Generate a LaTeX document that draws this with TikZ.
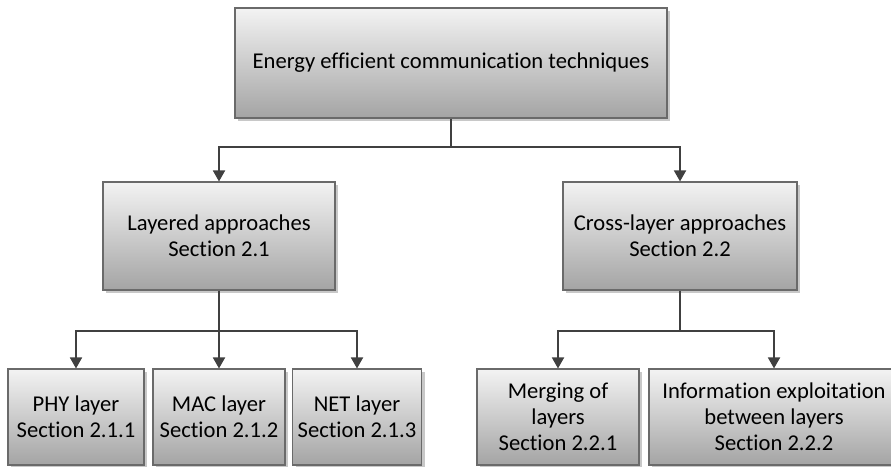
\documentclass[tikz,border=0pt]{standalone}
\usepackage{fontspec}
\setmainfont{Carlito}[Ligatures=NoCommon]
\usetikzlibrary{arrows.meta,shadows}

\definecolor{boxtop}{HTML}{F3F3F3}
\definecolor{boxbot}{HTML}{A4A4A4}
\definecolor{boxline}{HTML}{6A6A6A}
\definecolor{wire}{HTML}{404040}
\definecolor{shadowgray}{HTML}{C8C8C8}

\tikzset{
  box/.style={draw=boxline, line width=1.1pt, top color=boxtop, bottom color=boxbot,
    align=center, inner sep=0pt, font=\fontsize{22.6}{26}\selectfont,
    general shadow={fill=shadowgray, shadow xshift=3pt, shadow yshift=-3pt}},
  conn/.style={draw=wire, line width=1.8pt, -{Triangle[width=12pt,length=11pt]}},
  wireline/.style={draw=wire, line width=1.8pt}
}

\begin{document}
\begin{tikzpicture}[x=1pt,y=1pt]
\path[use as bounding box, clip] (0,0) rectangle (891,-466);

% top level
\node[box, minimum width=432pt, minimum height=110pt] (top) at (451,-63)
  {Energy efficient communication techniques};

% second level
\node[box, minimum width=232pt, minimum height=108pt] (lay) at (219,-236)
  {Layered approaches\\Section 2.1};
\node[box, minimum width=234pt, minimum height=108pt] (cross) at (680,-236)
  {Cross-layer approaches\\Section 2.2};

% third level
\node[box, minimum width=136pt, minimum height=96pt] (phy) at (76,-417)
  {PHY layer\\Section 2.1.1};
\node[box, minimum width=132pt, minimum height=96pt] (mac) at (219,-417)
  {MAC layer\\Section 2.1.2};
\node[box, minimum width=129pt, minimum height=96pt] (net) at (357,-417)
  {NET layer\\Section 2.1.3};
\node[box, minimum width=162pt, minimum height=96pt] (merge) at (558,-417)
  {Merging of\\layers\\Section 2.2.1};
\node[box, minimum width=250pt, minimum height=96pt] (info) at (774,-417)
  {Information exploitation\\between layers\\Section 2.2.2};

% junction points
\coordinate (j0) at (451,-147);
\coordinate (j1) at (219,-331);
\coordinate (j2) at (680,-331);

% connectors
\draw[wireline] (top.south) -- (j0);
\draw[conn] (j0) -| (lay.north);
\draw[conn] (j0) -| (cross.north);

\draw[wireline] (lay.south) -- (j1);
\draw[conn] (j1) -| (phy.north);
\draw[conn] (j1) -- (mac.north);
\draw[conn] (j1) -| (net.north);

\draw[wireline] (cross.south) -- (j2);
\draw[conn] (j2) -| (merge.north);
\draw[conn] (j2) -| (info.north);
\end{tikzpicture}
\end{document}
